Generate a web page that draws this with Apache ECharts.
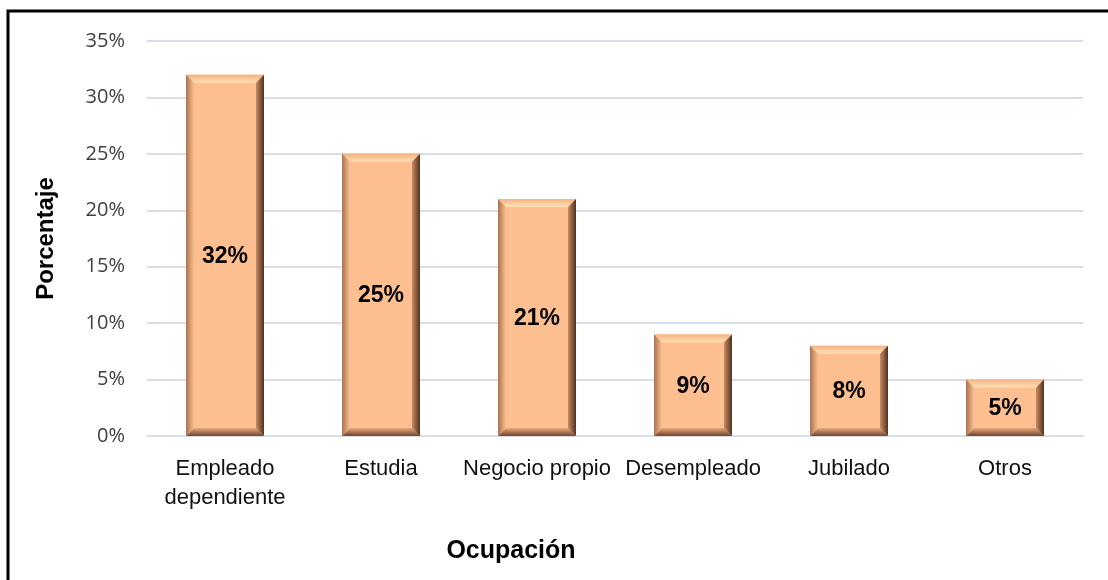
<!DOCTYPE html>
<html>
<head>
<meta charset="utf-8">
<style>
  html, body { margin: 0; padding: 0; background: #fff; }
  #chart { width: 1108px; height: 580px; }
</style>
<script src="https://cdn.jsdelivr.net/npm/echarts@6/dist/echarts.min.js"></script>
</head>
<body>
<div id="chart"></div>
<script>
// 职业分布 (Ocupación)
const categories = ['Empleado\ndependiente', 'Estudia', 'Negocio propio', 'Desempleado', 'Jubilado', 'Otros'];
const values = [32, 25, 21, 9, 8, 5];
const yTicks = { min: 0, max: 35, interval: 5 };

const FACE = '#fdbf8f';

// 斜面效果的柱子
function renderBevelBar(params, api) {
  const x = api.value(0);
  const v = api.value(1);
  const base = api.coord([x, 0]);
  const top = api.coord([x, v]);
  const w = api.size([1, 0])[0] * 0.5;
  const l = base[0] - w / 2, r = base[0] + w / 2;
  const t = top[1], b = base[1];
  const bv = Math.min(8, (b - t) / 2);
  const lin = (x1, y1, x2, y2, c1, c2) =>
    new echarts.graphic.LinearGradient(x1, y1, x2, y2, [{ offset: 0, color: c1 }, { offset: 1, color: c2 }]);
  return {
    type: 'group',
    children: [
      { type: 'rect', shape: { x: l, y: t, width: r - l, height: b - t }, style: { fill: FACE } },
      { type: 'polygon', shape: { points: [[l, t], [r, t], [r - bv, t + bv], [l + bv, t + bv]] },
        style: { fill: lin(0, 0, 0, 1, '#f4b283', '#ffe2b6') } },
      { type: 'polygon', shape: { points: [[l, b], [r, b], [r - bv, b - bv], [l + bv, b - bv]] },
        style: { fill: lin(0, 0, 0, 1, '#e9a97c', '#6e452d') } },
      { type: 'polygon', shape: { points: [[l, t], [l + bv, t + bv], [l + bv, b - bv], [l, b]] },
        style: { fill: lin(0, 0, 1, 0, '#a9734f', FACE) } },
      { type: 'polygon', shape: { points: [[r, t], [r - bv, t + bv], [r - bv, b - bv], [r, b]] },
        style: { fill: lin(0, 0, 1, 0, '#c98c62', '#4f3221') } },
      { type: 'text', x: base[0], y: (t + b) / 2 + 1,
        style: { text: v + '%', align: 'center', verticalAlign: 'middle',
                 font: 'bold 23px "Liberation Sans", Arial, sans-serif', fill: '#000' } }
    ]
  };
}

const chart = echarts.init(document.getElementById('chart'));
chart.setOption({
  animation: false,
  grid: { left: 147, right: 25, top: 41, bottom: 144 },
  xAxis: {
    type: 'category',
    data: categories,
    axisLine: { lineStyle: { color: '#d9dde7', width: 2 } },
    axisTick: { show: false },
    axisLabel: { color: '#111', fontSize: 22, lineHeight: 29, margin: 18,
                 fontFamily: '"Liberation Sans", Arial, sans-serif', interval: 0 }
  },
  yAxis: {
    type: 'value',
    min: yTicks.min, max: yTicks.max, interval: yTicks.interval,
    name: 'Porcentaje',
    nameLocation: 'middle',
    nameGap: 89,
    nameTextStyle: { fontSize: 24, fontWeight: 'bold', color: '#000',
                     fontFamily: '"Liberation Sans", Arial, sans-serif' },
    axisLine: { show: false },
    axisTick: { show: false },
    splitLine: { lineStyle: { color: '#d9dde7', width: 2 } },
    axisLabel: { formatter: v => v + '%', color: '#404040', fontSize: 20, margin: 22,
                 fontFamily: '"Open Sans", sans-serif' }
  },
  graphic: [
    { type: 'rect', shape: { x: 8, y: 11, width: 1300, height: 800 },
      style: { fill: null, stroke: '#000', lineWidth: 3 } },
    { type: 'text', x: 511, y: 551,
      style: { text: 'Ocupación', align: 'center', verticalAlign: 'middle',
               font: 'bold 25px "Liberation Sans", Arial, sans-serif', fill: '#000' } }
  ],
  series: [{
    type: 'custom',
    renderItem: renderBevelBar,
    data: values.map((v, i) => [i, v])
  }]
});
</script>
</body>
</html>
